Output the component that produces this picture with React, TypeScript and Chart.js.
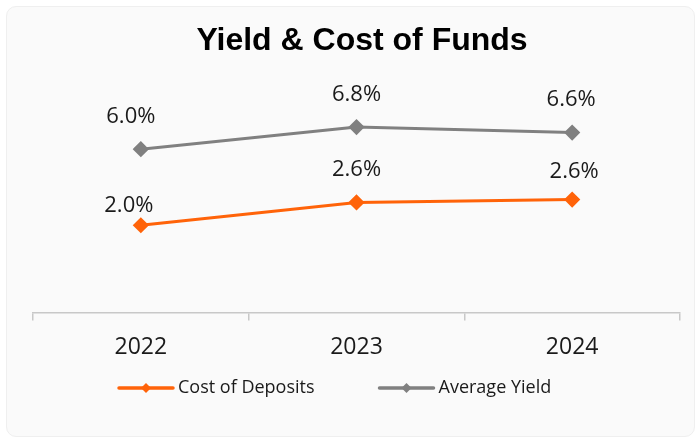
import React, { useEffect, useRef } from "react";
import { Chart, registerables } from "chart.js";

Chart.register(...registerables);

const TITLE = "Yield & Cost of Funds";
const years = ["2022", "2023", "2024"];
const costOfDeposits = [2.0, 2.57, 2.64];
const averageYield = [6.0, 6.8, 6.6];
const seriesNames = ["Cost of Deposits", "Average Yield"];

const ORANGE = "#ff6309";
const GRAY = "#808080";
const TEXT = "#1a1a1a";
const FONT = '"Open Sans", "Noto Sans", sans-serif';

// label offsets (style) relative to each point: [dx, dy]
const LABEL_OFFSETS = [
  [[-12, -20], [0, -33], [2, -28]],
  [[-10, -32], [0, -32], [-1, -33]],
];

const titlePlugin = {
  id: "customTitle",
  afterDraw(chart: any) {
    const ctx = chart.ctx;
    ctx.save();
    ctx.font = 'bold 32px "Liberation Sans", Arial, sans-serif';
    ctx.fillStyle = "#000";
    ctx.textAlign = "center";
    ctx.textBaseline = "middle";
    ctx.fillText(TITLE, 362, 41);
    ctx.restore();
  },
};

const labelPlugin = {
  id: "pointLabels",
  afterDatasetsDraw(chart: any) {
    const ctx = chart.ctx;
    ctx.save();
    ctx.font = "22px " + FONT;
    ctx.fillStyle = TEXT;
    ctx.textAlign = "center";
    ctx.textBaseline = "middle";
    chart.data.datasets.forEach((ds: any, di: number) => {
      const meta = chart.getDatasetMeta(di);
      meta.data.forEach((pt: any, i: number) => {
        const v = ds.data[i] as number;
        const o = LABEL_OFFSETS[di][i];
        ctx.fillText(v.toFixed(1) + "%", pt.x + o[0], pt.y + o[1]);
      });
    });
    ctx.restore();
  },
};

const legendPlugin = {
  id: "customLegend",
  afterDraw(chart: any) {
    const ctx = chart.ctx;
    ctx.save();
    ctx.font = "18px " + FONT;
    ctx.textBaseline = "middle";
    ctx.textAlign = "left";
    let x = 119;
    const y = 388;
    chart.data.datasets.forEach((ds: any) => {
      const c = ds.borderColor;
      ctx.strokeStyle = c;
      ctx.fillStyle = c;
      ctx.lineWidth = 3.5;
      ctx.lineCap = "round";
      ctx.beginPath();
      ctx.moveTo(x, y);
      ctx.lineTo(x + 54, y);
      ctx.stroke();
      const cx = x + 27;
      const r = 5;
      ctx.beginPath();
      ctx.moveTo(cx, y - r);
      ctx.lineTo(cx + r, y);
      ctx.lineTo(cx, y + r);
      ctx.lineTo(cx - r, y);
      ctx.closePath();
      ctx.fill();
      ctx.fillStyle = TEXT;
      ctx.fillText(ds.label, x + 59, y);
      x += 59 + ctx.measureText(ds.label).width + 65;
    });
    ctx.restore();
  },
};

export default function App() {
  const ref = useRef<HTMLCanvasElement>(null);
  useEffect(() => {
    if (!ref.current) return;
    const chart = new Chart(ref.current, {
      type: "line",
      data: {
        labels: years,
        datasets: [
          {
            label: seriesNames[0],
            data: costOfDeposits,
            borderColor: ORANGE,
            backgroundColor: ORANGE,
            borderWidth: 3,
            pointStyle: "rectRot",
            pointRadius: 6,
            pointHoverRadius: 6,
            tension: 0,
            yAxisID: "y2",
          },
          {
            label: seriesNames[1],
            data: averageYield,
            borderColor: GRAY,
            backgroundColor: GRAY,
            borderWidth: 3,
            pointStyle: "rectRot",
            pointRadius: 6,
            pointHoverRadius: 6,
            tension: 0,
            yAxisID: "y",
          },
        ],
      },
      options: {
        responsive: false,
        animation: false,
        layout: { padding: { top: 80, left: 33, right: 20, bottom: 68 } },
        plugins: {
          legend: { display: false },
          title: { display: false },
          tooltip: { enabled: false },
        },
        scales: {
          x: {
            offset: true,
            grid: {
              offset: true,
              drawOnChartArea: false,
              drawTicks: true,
              tickLength: 8,
              color: "#c8c8c8",
              lineWidth: 1.5,
            },
            border: { display: true, color: "#c8c8c8", width: 1.5 },
            ticks: {
              color: TEXT,
              font: { family: FONT, size: 23 },
              padding: 13,
            },
          },
          y: { display: false, min: 0.1, max: 8.5 },
          y2: { display: false, min: -0.175, max: 5.625 },
        },
      },
      plugins: [labelPlugin, titlePlugin, legendPlugin],
    });
    return () => chart.destroy();
  }, []);

  return (
    <div style={{ position: "absolute", left: 0, top: 0, width: 700, height: 442, background: "#fff" }}>
      <div
        style={{
          position: "absolute",
          left: 6,
          top: 6,
          width: 689,
          height: 431,
          boxSizing: "border-box",
          background: "#fafafa",
          border: "1px solid #efefef",
          borderRadius: 10,
        }}
      />
      <canvas
        ref={ref}
        width={700}
        height={442}
        style={{ position: "absolute", left: 0, top: 0, width: 700, height: 442 }}
      />
    </div>
  );
}
